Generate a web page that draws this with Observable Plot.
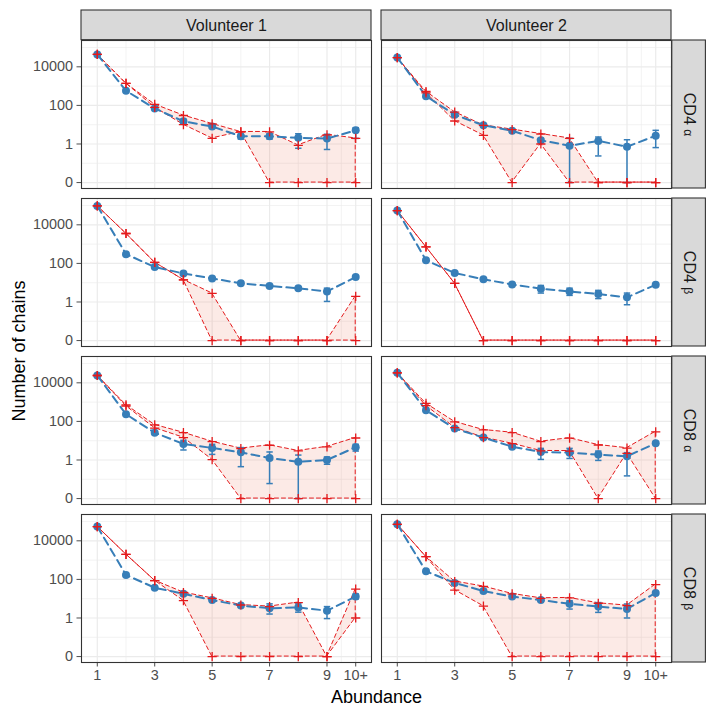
<!DOCTYPE html>
<html>
<head>
<meta charset="utf-8">
<script src="https://cdn.jsdelivr.net/npm/d3@7"></script>
<script src="https://cdn.jsdelivr.net/npm/@observablehq/plot@0.6"></script>
<style>
  html, body { margin: 0; padding: 0; background: white; }
</style>
</head>
<body>
<div id="chart"></div>
<script>
// ---------- data ----------
const volunteers = ["Volunteer 1", "Volunteer 2"];
const chains = ["CD4 α", "CD4 β", "CD8 α", "CD8 β"];
const abundance = [1, 2, 3, 4, 5, 6, 7, 8, 9, 10];
const xTickValues = [1, 3, 5, 7, 9, 10];
const xTickLabels = ["1", "3", "5", "7", "9", "10+"];
const yTickValues = [0, 1, 100, 10000];
const yTickLabels = ["0", "1", "100", "10000"];

// Volunteer 1 / CD4 alpha
const v1cd4aMean  = [43650, 575, 69, 15, 8, 2.5, 2.5, 2.1, 1.9, 5.1];
const v1cd4aLo    = [41000, 520, 60, 11, 6.5, 1.8, 1.8, 0.6, 0.52, 1.95];
const v1cd4aHi    = [46000, 630, 78, 19, 10, 3.2, 3.4, 3.4, 3.2, 7];
const v1cd4aUpper = [43650, 1380, 112, 30, 11, 4.2, 4.2, 0.85, 3, 1.95];
const v1cd4aLower = [43650, 1380, 79, 10, 1.95, 4.2, 0, 0, 0, 0];
// Volunteer 2 / CD4 alpha
const v2cd4aMean  = [30200, 302, 33, 9.3, 4.9, 1.55, 0.81, 1.45, 0.72, 2.7];
const v2cd4aLo    = [28000, 270, 29, 8, 4.2, 1.2, 0, 0.24, 0, 0.65];
const v2cd4aHi    = [32500, 340, 38, 11, 5.8, 2, 1.95, 2.3, 1.66, 5.1];
const v2cd4aUpper = [30200, 525, 45, 9.3, 5.6, 3.3, 1.95, 0, 0, 0];
const v2cd4aLower = [30200, 450, 15.5, 2.8, 0, 1, 0, 0, 0, 0];
// Volunteer 1 / CD4 beta
const v1cd4bMean  = [95500, 302, 65, 30, 16.6, 9.3, 6.8, 5.1, 3.5, 19.5];
const v1cd4bLo    = [90000, 275, 59, 27, 15, 8.3, 6, 4.4, 1.07, 17.5];
const v1cd4bHi    = [101000, 330, 71, 33, 18.3, 10.3, 7.6, 5.8, 5.2, 21.5];
const v1cd4bUpper = [95500, 3550, 112, 14, 2.8, 0, 0, 0, 0, 1.95];
const v1cd4bLower = [95500, 3550, 112, 14, 0, 0, 0, 0, 0, 0];
// Volunteer 2 / CD4 beta
const v2cd4bMean  = [55000, 145, 32, 15, 8.1, 4.9, 3.5, 2.6, 1.74, 7.9];
const v2cd4bLo    = [52000, 132, 29, 13.5, 7.3, 2.9, 2.2, 1.5, 0.72, 7.1];
const v2cd4bHi    = [58000, 160, 35, 16.5, 8.9, 7.2, 5.2, 4, 2.9, 8.7];
const v2cd4bUpper = [55000, 725, 9.3, 0, 0, 0, 0, 0, 0, 0];
const v2cd4bLower = [55000, 725, 9.3, 0, 0, 0, 0, 0, 0, 0];
// Volunteer 1 / CD8 alpha
const v1cd8aMean  = [24000, 235, 26, 6.8, 4.2, 2.5, 1.26, 0.8, 1.0, 4.6];
const v1cd8aLo    = [22500, 215, 23.5, 3.3, 1.95, 0.45, 0.06, 0, 0.6, 2.9];
const v1cd8aHi    = [25500, 255, 28.5, 10.5, 6.5, 4.4, 2.6, 1.8, 1.44, 6.5];
const v1cd8aUpper = [24000, 725, 66, 26, 8.9, 3.9, 5.8, 2.95, 4.8, 13.8];
const v1cd8aLower = [24000, 630, 45, 14.5, 1.05, 0, 0, 0, 0, 0];
// Volunteer 2 / CD8 alpha
const v2cd8aMean  = [33000, 380, 43, 14.5, 4.9, 2.6, 2.4, 1.9, 1.55, 7.4];
const v2cd8aLo    = [31000, 345, 39, 13, 4.3, 1.07, 1.2, 0.95, 0.15, 6.6];
const v2cd8aHi    = [35000, 415, 47, 16, 5.5, 4, 4, 2.9, 2.4, 8.2];
const v2cd8aUpper = [33000, 850, 95, 36, 26, 8.9, 13.5, 6, 4.1, 29];
const v2cd8aLower = [33000, 650, 48, 14.5, 7, 2.95, 2.9, 0, 2.2, 0];
// Volunteer 1 / CD8 beta
const v1cd8bMean  = [55000, 170, 37, 18, 8.5, 4.4, 3.2, 3.5, 2.4, 12.9];
const v1cd8bLo    = [52000, 155, 33.5, 16, 7.5, 3.8, 1.6, 2, 0.93, 9.7];
const v1cd8bHi    = [58000, 185, 41, 20, 9.6, 5, 5.4, 5.4, 3.9, 17.6];
const v1cd8bUpper = [55000, 2000, 87, 21, 10.5, 4.7, 3.9, 6.3, 0, 31];
const v1cd8bLower = [55000, 2000, 87, 7.9, 0, 0, 0, 0, 0, 1];
// Volunteer 2 / CD8 beta
const v2cd8bMean  = [72000, 263, 66, 25, 12.9, 8.5, 5.4, 3.9, 2.95, 20];
const v2cd8bLo    = [68000, 240, 60, 22.5, 11.5, 7.5, 2.9, 1.95, 1.0, 18];
const v2cd8bHi    = [76000, 290, 72, 28, 14.5, 9.6, 7.9, 6.3, 5.3, 22];
const v2cd8bUpper = [72000, 1500, 78, 43, 17.8, 10.5, 11, 5.8, 4.4, 54];
const v2cd8bLower = [72000, 1500, 28, 4.1, 0, 0, 0, 0, 0, 0];

// ---------- table ----------
const panels = [
  ["Volunteer 1", "CD4 α", v1cd4aMean, v1cd4aLo, v1cd4aHi, v1cd4aUpper, v1cd4aLower],
  ["Volunteer 2", "CD4 α", v2cd4aMean, v2cd4aLo, v2cd4aHi, v2cd4aUpper, v2cd4aLower],
  ["Volunteer 1", "CD4 β", v1cd4bMean, v1cd4bLo, v1cd4bHi, v1cd4bUpper, v1cd4bLower],
  ["Volunteer 2", "CD4 β", v2cd4bMean, v2cd4bLo, v2cd4bHi, v2cd4bUpper, v2cd4bLower],
  ["Volunteer 1", "CD8 α", v1cd8aMean, v1cd8aLo, v1cd8aHi, v1cd8aUpper, v1cd8aLower],
  ["Volunteer 2", "CD8 α", v2cd8aMean, v2cd8aLo, v2cd8aHi, v2cd8aUpper, v2cd8aLower],
  ["Volunteer 1", "CD8 β", v1cd8bMean, v1cd8bLo, v1cd8bHi, v1cd8bUpper, v1cd8bLower],
  ["Volunteer 2", "CD8 β", v2cd8bMean, v2cd8bLo, v2cd8bHi, v2cd8bUpper, v2cd8bLower]
];
const rows = [];
for (const [vol, cell, mean, lo, hi, up, low] of panels) {
  abundance.forEach((x, i) => rows.push({vol, cell, x, mean: mean[i], lo: lo[i], hi: hi[i], upper: up[i], lower: low[i]}));
}

// zero is shown one step (two decades) below 1
const yv = v => (v === 0 ? 0.01 : v);

const blue = "#377EB8";
const red = "#E41A1C";

const yMajor = yTickValues.map(yv);
const yMinor = yMajor.slice(1).map((b, i) => Math.sqrt(b * yMajor[i])).concat([yMajor[yMajor.length - 1] * 10]);
const xMajor = xTickValues;
const xMinor = xMajor.slice(1).map((b, i) => (b + xMajor[i]) / 2);

const topStrips = volunteers.map(vol => ({vol, cell: chains[0]}));
const rightStrips = chains.map(cell => ({vol: volunteers[volunteers.length - 1], cell}));

const W = 716, H = 716;
const mTop = 39.3, mBottom = 53.3, mLeft = 80.7, mRight = 43.7;
const gap = 10;
const panelH = (H - mTop - mBottom - gap * (chains.length - 1)) / chains.length;
const panelW = (W - mLeft - mRight - gap * (volunteers.length - 1)) / volunteers.length;
const stripH = 30, stripW = 34.4;

const capSymbol = {draw(ctx) { ctx.moveTo(-3.2, 0); ctx.lineTo(3.2, 0); }};
const plusSymbol = {draw(ctx) { ctx.moveTo(-4.6, 0); ctx.lineTo(4.6, 0); ctx.moveTo(0, -4.6); ctx.lineTo(0, 4.6); }};

const plot = Plot.plot({
  width: W, height: H,
  marginTop: mTop, marginBottom: mBottom, marginLeft: mLeft, marginRight: mRight,
  style: {fontFamily: "'Liberation Sans', Arial, sans-serif", fontSize: "14.4px", background: "white", color: "#4d4d4d"},
  fx: {domain: volunteers, paddingInner: gap / (panelW + gap), paddingOuter: 0, axis: null, label: null},
  fy: {domain: chains, paddingInner: gap / (panelH + gap), paddingOuter: 0, axis: null, label: null},
  x: {domain: [0.45, 10.55], ticks: xTickValues, tickFormat: d => xTickLabels[xTickValues.indexOf(d)], tickSize: 4.5, tickPadding: 3, label: null},
  y: {type: "log", domain: [Math.pow(10, -2.307), Math.pow(10, 5.364)], ticks: yMajor, tickFormat: d => yTickLabels[yMajor.indexOf(d)], tickSize: 4.5, tickPadding: 4, label: null},
  marks: [
    Plot.ruleY(yMinor, {stroke: "#ebebeb", strokeWidth: 0.6}),
    Plot.ruleX(xMinor, {stroke: "#ebebeb", strokeWidth: 0.6}),
    Plot.ruleY(yMajor, {stroke: "#ebebeb", strokeWidth: 1.2}),
    Plot.ruleX(xMajor, {stroke: "#ebebeb", strokeWidth: 1.2}),
    Plot.areaY(rows, {fx: "vol", fy: "cell", x: "x", y1: d => yv(d.lower), y2: d => yv(d.upper),
      fill: "#E8603C", fillOpacity: 0.13, stroke: red, strokeWidth: 1, strokeDasharray: "4,3"}),
    Plot.line(rows, {fx: "vol", fy: "cell", x: "x", y: d => yv(d.mean), stroke: blue, strokeWidth: 2, strokeDasharray: "8,5"}),
    Plot.ruleX(rows, {fx: "vol", fy: "cell", x: "x", y1: d => yv(d.lo), y2: d => yv(d.hi), stroke: blue, strokeWidth: 1.5}),
    Plot.dot(rows, {fx: "vol", fy: "cell", x: "x", y: d => yv(d.lo), symbol: capSymbol, fill: "none", stroke: blue, strokeWidth: 1.5}),
    Plot.dot(rows, {fx: "vol", fy: "cell", x: "x", y: d => yv(d.hi), symbol: capSymbol, fill: "none", stroke: blue, strokeWidth: 1.5}),
    Plot.dot(rows, {fx: "vol", fy: "cell", x: "x", y: d => yv(d.mean), r: 4, fill: blue, stroke: "none"}),
    Plot.dot(rows, {fx: "vol", fy: "cell", x: "x", y: d => yv(d.upper), symbol: plusSymbol, fill: "none", stroke: red, strokeWidth: 1.3}),
    Plot.dot(rows, {fx: "vol", fy: "cell", x: "x", y: d => yv(d.lower), symbol: plusSymbol, fill: "none", stroke: red, strokeWidth: 1.3}),
    Plot.frame({stroke: "#333333", strokeWidth: 1.1}),
    Plot.rect(topStrips, {fx: "vol", fy: "cell", insetTop: -stripH, insetBottom: panelH, fill: "#d9d9d9", stroke: "#333333", strokeWidth: 1.1}),
    Plot.text(topStrips, {fx: "vol", fy: "cell", text: "vol", frameAnchor: "top", lineAnchor: "middle", textAnchor: "middle", dy: -stripH / 2, fontSize: 16, fill: "#1a1a1a"}),
    Plot.rect(rightStrips, {fx: "vol", fy: "cell", insetLeft: panelW, insetRight: -stripW, fill: "#d9d9d9", stroke: "#333333", strokeWidth: 1.1}),
    Plot.text(rightStrips, {fx: "vol", fy: "cell", text: "cell", frameAnchor: "right", lineAnchor: "middle", textAnchor: "middle", dx: stripW / 2, rotate: 90, fontSize: 16, fill: "#1a1a1a"})
  ]
});

document.getElementById("chart").appendChild(plot);

// axis titles
const svg = d3.select(plot);
svg.append("text")
  .attr("x", mLeft + (W - mLeft - mRight) / 2).attr("y", 697).attr("dy", "0.35em")
  .attr("text-anchor", "middle").attr("fill", "black").style("font-size", "18px")
  .text("Abundance");
svg.append("text")
  .attr("transform", `translate(19,${mTop + (H - mTop - mBottom) / 2}) rotate(-90)`)
  .attr("dy", "0.35em")
  .attr("text-anchor", "middle").attr("fill", "black").style("font-size", "18px")
  .text("Number of chains");

// smaller greek letters in the row strips
svg.selectAll("text").each(function() {
  const t = this.textContent;
  const m = /^(CD\d )([αβ])$/.exec(t);
  if (m && this.children.length === 0) {
    const el = d3.select(this);
    el.text(null);
    el.append("tspan").text(m[1]);
    el.append("tspan").style("font-size", "12px").text(m[2]);
  }
});
</script>
</body>
</html>
